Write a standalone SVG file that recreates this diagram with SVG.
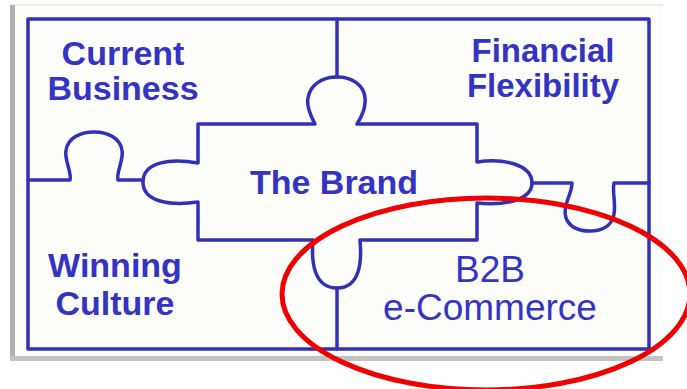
<svg xmlns="http://www.w3.org/2000/svg" width="687" height="389" viewBox="0 0 687 389">
<style>
.ln{fill:none;stroke:#3030b8;stroke-width:3.5;stroke-linejoin:round;stroke-linecap:round}
.lb{font-family:"Liberation Sans",Arial,sans-serif;font-size:34px;font-weight:bold;fill:#3434c4;text-anchor:middle}
.sm{font-size:33px}
.lr{font-weight:normal;font-size:37px}
</style>
<rect width="687" height="389" fill="#ffffff"/>
<g id="shot">
<rect x="10" y="4" width="653" height="2" fill="#ececec"/>
<rect x="10" y="5" width="5" height="356" fill="#b0b0b0"/>
<rect x="10" y="356" width="653" height="5" fill="#c2c2c2"/>
<rect x="15" y="6" width="648" height="350" fill="#fdfdfb"/>
</g>
<g id="frame">
<rect class="ln" x="28" y="19" width="621" height="330"/>
</g>
<g id="brand">
<path class="ln" d="M198,124 H315 C312,118 306,108 308,98 C310,85 322,77 337,77 C352,77 364,85 365,98 C366,108 361,118 357,124 H477 V162 C505,158 532,165 532,183 C532,198 510,206 477,203 V240 H360 C362,262 360,288 337,288 C314,288 311,262 313,240 H198 V202 C170,206 143,202 143,182 C143,162 170,158 198,163 Z"/>
<text class="lb" x="334" y="194">The Brand</text>
</g>
<g id="connectors">
<path class="ln" d="M337,19 V77"/>
<path class="ln" d="M337,288 V349"/>
<path class="ln" d="M28,180 H70 C72,172 64,160 66,150 C68,138 80,132 94,132 C108,132 120,138 122,150 C124,160 116,172 118,180 H143"/>
<path class="ln" d="M532,183 H572 C572,195 562,205 566,218 C570,228 580,231 590,231 C602,231 612,226 614,214 C616,202 612,192 614,183 H649"/>
</g>
<g id="current-business">
<text class="lb" x="123" y="65">Current</text>
<text class="lb" x="123" y="100">Business</text>
</g>
<g id="financial-flexibility">
<text class="lb sm" x="543" y="62">Financial</text>
<text class="lb sm" x="543" y="97">Flexibility</text>
</g>
<g id="winning-culture">
<text class="lb" x="115" y="277">Winning</text>
<text class="lb" x="115" y="315">Culture</text>
</g>
<g id="b2b">
<text class="lb lr" x="490" y="282">B2B</text>
<text class="lb lr" x="490" y="320">e-Commerce</text>
</g>
<g id="highlight">
<ellipse cx="486" cy="294" rx="204" ry="96" fill="none" stroke="#f00000" stroke-width="5"/>
</g>
</svg>
